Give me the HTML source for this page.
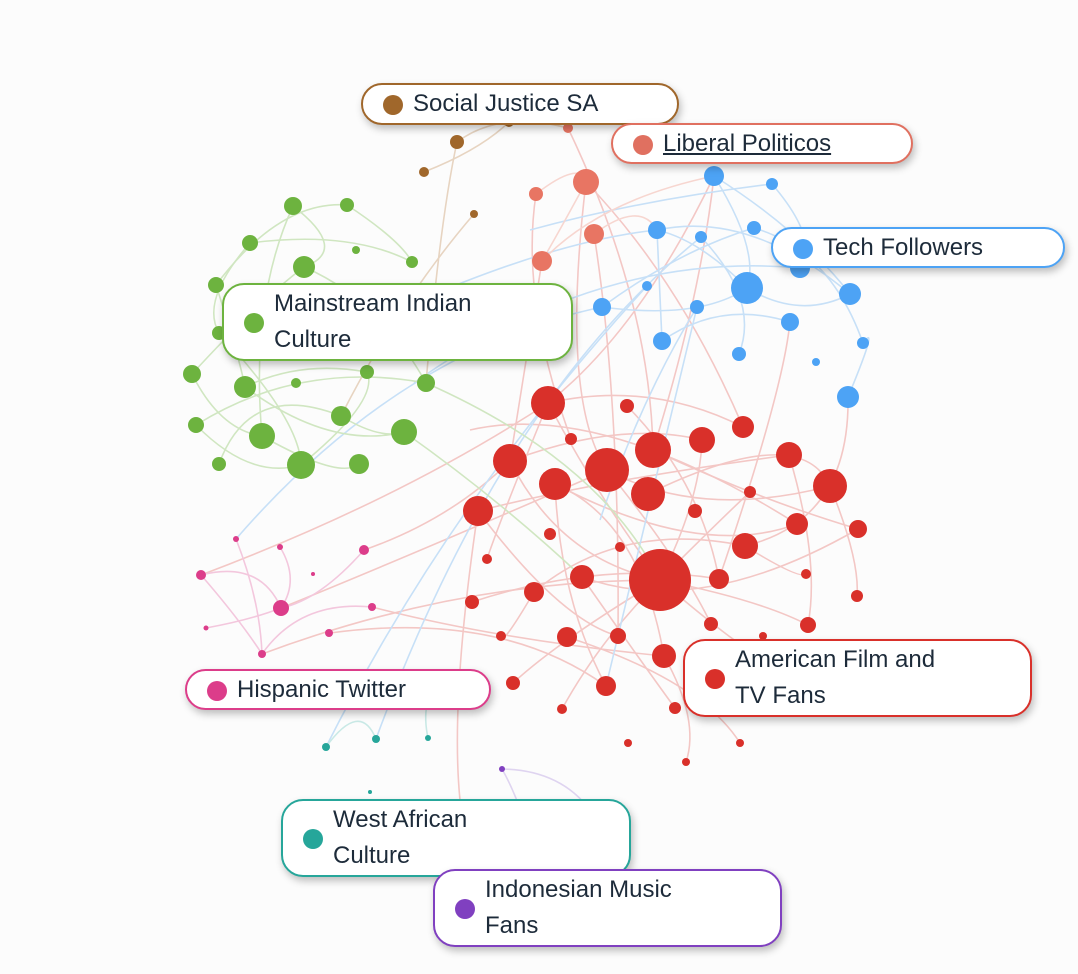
<!DOCTYPE html>
<html><head><meta charset="utf-8"><style>
html,body{margin:0;padding:0;background:#fcfcfc;width:1078px;height:974px;overflow:hidden;font-family:"Liberation Sans",sans-serif}
.lab{position:absolute;background:#fff;border:2px solid;border-radius:22px;box-shadow:2px 4px 8px rgba(0,0,0,.25);box-sizing:border-box;color:#1d2b3a;font-size:24px;line-height:36px}
.lab .d{position:absolute;left:20px;width:20px;height:20px;border-radius:50%}
.lab .t{position:absolute;left:50px}
</style></head><body>
<svg width="1078" height="974" style="position:absolute;left:0;top:0">
<g fill="none" stroke-width="1.6" opacity="0.4">
<g stroke="#e87a74">
<path d="M660 580 Q600 500 548 403"/><path d="M660 580 Q700 500 702 440"/><path d="M607 470 Q700 520 830 486"/><path d="M510 461 Q560 560 660 580"/><path d="M478 511 Q600 480 789 455"/><path d="M548 403 Q650 380 743 427"/><path d="M660 580 Q560 640 513 683"/><path d="M660 580 Q760 600 808 625"/><path d="M607 470 Q560 400 586 182"/><path d="M653 450 Q700 300 714 176"/><path d="M582 577 Q700 620 858 529"/><path d="M281 608 Q400 560 607 470"/><path d="M201 575 Q400 500 548 403"/><path d="M534 592 Q620 520 745 546"/><path d="M664 656 Q700 720 686 762"/><path d="M606 686 Q560 600 555 484"/><path d="M567 637 Q700 680 740 743"/><path d="M648 494 Q800 420 830 486"/><path d="M470 430 Q600 400 797 524"/><path d="M660 580 Q460 580 262 654"/><path d="M745 546 Q850 520 848 397"/><path d="M719 579 Q780 400 789 330"/><path d="M478 511 Q450 700 460 800"/><path d="M594 234 Q620 400 618 636"/><path d="M542 261 Q520 400 510 461"/><path d="M372 607 Q500 640 664 656"/><path d="M568 128 Q650 300 653 450"/><path d="M660 580 Q800 700 763 636"/>
<path d="M548 403 Q500 520 487 559"/><path d="M510 461 Q620 420 702 440"/><path d="M555 484 Q700 560 797 524"/><path d="M478 511 Q560 620 618 636"/><path d="M660 580 Q720 520 750 492"/><path d="M607 470 Q680 560 711 624"/><path d="M653 450 Q760 500 858 529"/><path d="M582 577 Q640 660 675 708"/><path d="M534 592 Q500 650 501 636"/><path d="M472 602 Q600 560 720 579"/><path d="M830 486 Q860 560 857 596"/><path d="M745 546 Q800 580 806 574"/><path d="M548 403 Q640 330 714 176"/><path d="M586 182 Q680 280 743 427"/><path d="M536 194 Q520 300 571 439"/><path d="M627 406 Q700 480 719 579"/><path d="M330 633 Q500 610 606 686"/><path d="M364 550 Q450 520 510 461"/><path d="M555 484 Q640 520 664 656"/><path d="M789 455 Q820 560 808 625"/><path d="M562 709 Q600 640 660 580"/>
</g>
<g stroke="#7ab8f0">
<path d="M747 288 Q700 240 657 230"/><path d="M747 288 Q800 320 850 294"/><path d="M714 176 Q760 250 747 288"/><path d="M602 307 Q680 250 754 228"/><path d="M662 341 Q720 300 790 322"/><path d="M236 539 Q400 350 602 307"/><path d="M326 747 Q450 500 647 286"/><path d="M376 739 Q500 400 701 237"/><path d="M414 383 Q600 250 800 268"/><path d="M848 397 Q880 320 863 343"/><path d="M657 230 Q750 210 850 294"/><path d="M697 307 Q650 500 606 686"/>
<path d="M714 176 Q800 230 850 294"/><path d="M602 307 Q700 320 747 288"/><path d="M657 230 Q660 300 662 341"/><path d="M754 228 Q830 250 863 343"/><path d="M701 237 Q760 300 739 354"/><path d="M772 184 Q820 240 800 268"/><path d="M530 230 Q640 200 772 184"/><path d="M420 300 Q560 240 657 230"/><path d="M600 520 Q640 400 697 307"/>
</g>
<g stroke="#8fc76a">
<path d="M293 206 Q350 250 304 267"/><path d="M250 243 Q350 230 412 262"/><path d="M216 285 Q280 200 347 205"/><path d="M192 374 Q260 300 304 267"/><path d="M245 387 Q330 450 404 432"/><path d="M262 436 Q340 480 359 464"/><path d="M196 425 Q300 360 426 383"/><path d="M219 464 Q250 380 341 416"/><path d="M301 465 Q380 400 367 372"/><path d="M219 333 Q300 420 301 465"/><path d="M404 432 Q500 500 582 577"/><path d="M426 383 Q600 460 660 580"/><path d="M293 206 Q250 300 262 436"/>
<path d="M250 243 Q200 300 219 333"/><path d="M347 205 Q400 240 412 262"/><path d="M192 374 Q220 430 262 436"/><path d="M245 387 Q300 360 367 372"/><path d="M304 267 Q380 300 426 383"/><path d="M196 425 Q250 480 301 465"/><path d="M341 416 Q380 440 404 432"/><path d="M216 285 Q240 360 245 387"/>
</g>
<g stroke="#c89a6a"><path d="M457 142 Q440 220 426 383"/><path d="M424 172 Q480 150 509 122"/><path d="M474 214 Q400 300 341 416"/><path d="M457 142 Q500 110 568 128"/></g>
<g stroke="#f0a090"><path d="M586 182 Q560 230 542 261"/><path d="M594 234 Q640 200 657 230"/><path d="M536 194 Q580 160 586 182"/><path d="M542 261 Q600 200 714 176"/></g>
<g stroke="#e77ab0"><path d="M201 575 Q260 560 281 608"/><path d="M281 608 Q320 600 364 550"/><path d="M206 628 Q250 620 281 608"/><path d="M262 654 Q300 600 372 607"/><path d="M236 539 Q260 600 262 654"/><path d="M280 547 Q300 580 281 608"/><path d="M201 575 Q240 620 262 654"/></g>
<g stroke="#7fcfc6"><path d="M326 747 Q360 700 376 739"/><path d="M428 738 Q420 700 440 680"/></g>
<g stroke="#b49ae0"><path d="M502 769 Q560 770 590 810"/><path d="M502 769 Q520 800 540 870"/></g>
</g>
<g>
<g fill="#d9302a">
<circle cx="660" cy="580" r="31"/><circle cx="607" cy="470" r="22"/><circle cx="653" cy="450" r="18"/><circle cx="510" cy="461" r="17"/><circle cx="548" cy="403" r="17"/><circle cx="555" cy="484" r="16"/><circle cx="648" cy="494" r="17"/><circle cx="478" cy="511" r="15"/><circle cx="830" cy="486" r="17"/><circle cx="702" cy="440" r="13"/><circle cx="789" cy="455" r="13"/><circle cx="743" cy="427" r="11"/><circle cx="745" cy="546" r="13"/><circle cx="797" cy="524" r="11"/><circle cx="719" cy="579" r="10"/><circle cx="582" cy="577" r="12"/><circle cx="534" cy="592" r="10"/><circle cx="664" cy="656" r="12"/><circle cx="606" cy="686" r="10"/><circle cx="567" cy="637" r="10"/><circle cx="618" cy="636" r="8"/><circle cx="858" cy="529" r="9"/><circle cx="808" cy="625" r="8"/><circle cx="711" cy="624" r="7"/><circle cx="750" cy="492" r="6"/><circle cx="695" cy="511" r="7"/><circle cx="627" cy="406" r="7"/><circle cx="571" cy="439" r="6"/><circle cx="550" cy="534" r="6"/><circle cx="620" cy="547" r="5"/><circle cx="487" cy="559" r="5"/><circle cx="472" cy="602" r="7"/><circle cx="501" cy="636" r="5"/><circle cx="513" cy="683" r="7"/><circle cx="562" cy="709" r="5"/><circle cx="675" cy="708" r="6"/><circle cx="628" cy="743" r="4"/><circle cx="686" cy="762" r="4"/><circle cx="740" cy="743" r="4"/><circle cx="806" cy="574" r="5"/><circle cx="857" cy="596" r="6"/><circle cx="763" cy="636" r="4"/>
</g>
<g fill="#4da3f5">
<circle cx="747" cy="288" r="16"/><circle cx="714" cy="176" r="10"/><circle cx="657" cy="230" r="9"/><circle cx="850" cy="294" r="11"/><circle cx="848" cy="397" r="11"/><circle cx="790" cy="322" r="9"/><circle cx="662" cy="341" r="9"/><circle cx="602" cy="307" r="9"/><circle cx="697" cy="307" r="7"/><circle cx="739" cy="354" r="7"/><circle cx="754" cy="228" r="7"/><circle cx="701" cy="237" r="6"/><circle cx="647" cy="286" r="5"/><circle cx="772" cy="184" r="6"/><circle cx="863" cy="343" r="6"/><circle cx="816" cy="362" r="4"/><circle cx="800" cy="268" r="10"/>
</g>
<g fill="#e87563"><circle cx="586" cy="182" r="13"/><circle cx="594" cy="234" r="10"/><circle cx="542" cy="261" r="10"/><circle cx="536" cy="194" r="7"/><circle cx="568" cy="128" r="5"/></g>
<g fill="#a0672b"><circle cx="457" cy="142" r="7"/><circle cx="424" cy="172" r="5"/><circle cx="474" cy="214" r="4"/><circle cx="509" cy="122" r="5"/></g>
<g fill="#6db33f">
<circle cx="293" cy="206" r="9"/><circle cx="347" cy="205" r="7"/><circle cx="250" cy="243" r="8"/><circle cx="304" cy="267" r="11"/><circle cx="412" cy="262" r="6"/><circle cx="356" cy="250" r="4"/><circle cx="216" cy="285" r="8"/><circle cx="219" cy="333" r="7"/><circle cx="192" cy="374" r="9"/><circle cx="245" cy="387" r="11"/><circle cx="296" cy="383" r="5"/><circle cx="367" cy="372" r="7"/><circle cx="426" cy="383" r="9"/><circle cx="196" cy="425" r="8"/><circle cx="262" cy="436" r="13"/><circle cx="341" cy="416" r="10"/><circle cx="404" cy="432" r="13"/><circle cx="301" cy="465" r="14"/><circle cx="359" cy="464" r="10"/><circle cx="219" cy="464" r="7"/>
</g>
<g fill="#dc3d8a"><circle cx="281" cy="608" r="8"/><circle cx="201" cy="575" r="5"/><circle cx="236" cy="539" r="3"/><circle cx="280" cy="547" r="3"/><circle cx="364" cy="550" r="5"/><circle cx="313" cy="574" r="2"/><circle cx="372" cy="607" r="4"/><circle cx="329" cy="633" r="4"/><circle cx="206" cy="628" r="2.5"/><circle cx="262" cy="654" r="4"/></g>
<g fill="#26a69a"><circle cx="326" cy="747" r="4"/><circle cx="376" cy="739" r="4"/><circle cx="428" cy="738" r="3"/><circle cx="370" cy="792" r="2"/></g>
<circle cx="502" cy="769" r="3" fill="#8040c0"/>
</g>
</svg>
<div class="lab" style="left:361px;top:83px;width:318px;height:42px;border-color:#a0672b"><span class="d" style="top:10px;background:#a0672b"></span><span class="t" style="top:1px">Social Justice SA</span></div>
<div class="lab" style="left:611px;top:123px;width:302px;height:41px;border-color:#e07060"><span class="d" style="top:10px;background:#e07060"></span><span class="t" style="top:1px;text-decoration:underline">Liberal Politicos</span></div>
<div class="lab" style="left:771px;top:227px;width:294px;height:41px;border-color:#4da3f5"><span class="d" style="top:10px;background:#4da3f5"></span><span class="t" style="top:1px">Tech Followers</span></div>
<div class="lab" style="left:222px;top:283px;width:351px;height:78px;border-color:#6db33f"><span class="d" style="top:28px;background:#6db33f"></span><span class="t" style="top:1px">Mainstream Indian<br>Culture</span></div>
<div class="lab" style="left:185px;top:669px;width:306px;height:41px;border-color:#dc3d8a"><span class="d" style="top:10px;background:#dc3d8a"></span><span class="t" style="top:1px">Hispanic Twitter</span></div>
<div class="lab" style="left:683px;top:639px;width:349px;height:78px;border-color:#d9302a"><span class="d" style="top:28px;background:#d9302a"></span><span class="t" style="top:1px">American Film and<br>TV Fans</span></div>
<div class="lab" style="left:281px;top:799px;width:350px;height:78px;border-color:#26a69a"><span class="d" style="top:28px;background:#26a69a"></span><span class="t" style="top:1px">West African<br>Culture</span></div>
<div class="lab" style="left:433px;top:869px;width:349px;height:78px;border-color:#8040c0"><span class="d" style="top:28px;background:#8040c0"></span><span class="t" style="top:1px">Indonesian Music<br>Fans</span></div>
</body></html>
